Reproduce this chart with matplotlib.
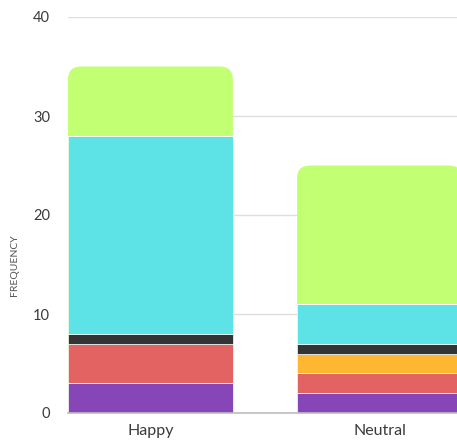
import matplotlib
matplotlib.use("Agg")
import matplotlib.pyplot as plt
from matplotlib.patches import FancyBboxPatch

plt.rcParams['font.family'] = ['Lato', 'DejaVu Sans']

categories = ["Happy", "Neutral"]
# stacked segments, bottom to top
purple = [3, 2]
red = [4, 2]
orange = [0, 2]
dark = [1, 1]
cyan = [20, 4]
green = [7, 14]
series = [purple, red, orange, dark, cyan, green]
colors = ["#8746B7", "#E36262", "#FFB731", "#333535", "#5DE3E6", "#C2FF73"]
yticks = [0, 10, 20, 30, 40]

W, H, DPI = 457, 441, 100
fig = plt.figure(figsize=(W / DPI, H / DPI), dpi=DPI)
ax_l, ax_r, ax_b, ax_t = 68, 457, 413, 17
ax = fig.add_axes([ax_l / W, 1 - ax_b / H, (ax_r - ax_l) / W, (ax_b - ax_t) / H])

bar_w = 0.72
x = list(range(len(categories)))
ax.set_xlim(-bar_w / 2, -bar_w / 2 + (ax_r - ax_l) / 229.0)
ax.set_ylim(0, 40)

px_per_x = (ax_r - ax_l) / (ax.get_xlim()[1] - ax.get_xlim()[0])
px_per_y = (ax_b - ax_t) / 40.0
radius_px = 13

totals = [sum(s[i] for s in series) for i in range(len(categories))]

# full-height rounded shape in the top colour, with the lower segments on top
for i, xi in enumerate(x):
    patch = FancyBboxPatch(
        (xi - bar_w / 2, 0), bar_w, totals[i],
        boxstyle=f"round,pad=0,rounding_size={radius_px / px_per_x}",
        mutation_aspect=px_per_x / px_per_y,
        facecolor=colors[-1], edgecolor="none", zorder=2)
    ax.add_patch(patch)

bottoms = [0] * len(categories)
for vals, col in zip(series[:-1], colors[:-1]):
    ax.bar(x, vals, bar_w, bottom=bottoms, color=col, edgecolor="white",
           linewidth=0.5, zorder=3)
    bottoms = [b + v for b, v in zip(bottoms, vals)]
# thin separator above the cyan block
ax.bar(x, [0] * len(x), bar_w, bottom=bottoms, color="none", edgecolor="white",
       linewidth=0.5, zorder=3)

ax.set_yticks(yticks)
ax.set_yticklabels([str(t) for t in yticks])
ax.set_xticks(x)
ax.set_xticklabels(categories)
ax.tick_params(axis="y", length=0, pad=13, labelsize=10.5, labelcolor="#3a3a3a")
ax.tick_params(axis="x", length=0, pad=8, labelsize=11.5, labelcolor="#3a3a3a")

ax.grid(axis="y", color="#dedede", linewidth=1, zorder=0)
ax.set_axisbelow(True)
for side in ["top", "right", "left"]:
    ax.spines[side].set_visible(False)
ax.spines["bottom"].set_color("#bdbdbd")
ax.spines["bottom"].set_linewidth(1.2)
ax.spines["bottom"].set_zorder(4)

fig.text(14 / W, 1 - 265 / H, "FREQUENCY", rotation=90, ha="center", va="center",
         fontsize=7.5, color="#555555")

fig.savefig("out.png", dpi=DPI)
